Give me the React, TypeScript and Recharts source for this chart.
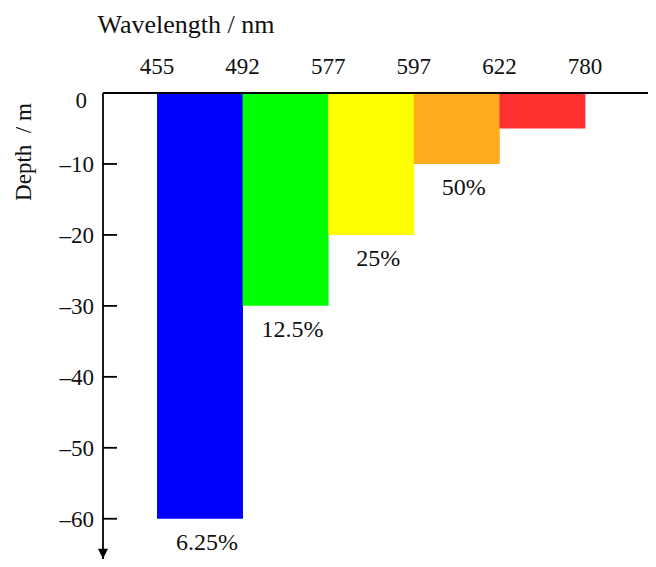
import React from 'react';
import { BarChart, Bar, XAxis, YAxis, Cell, LabelList } from 'recharts';

const wavelengthEdges = [455, 492, 577, 597, 622, 780];
const bandNames = ['Blue', 'Green', 'Yellow', 'Orange', 'Red'];
const depths = [-60, -30, -20, -10, -5];
const penetration = ['6.25%', '12.5%', '25%', '50%', ''];
const colors = ['#0000FF', '#00FF00', '#FFFF00', '#FFAD1F', '#FF3030'];
const depthTicks = [0, -10, -20, -30, -40, -50, -60];

const data = bandNames.map((name, i) => ({
  name,
  start: wavelengthEdges[i],
  end: wavelengthEdges[i + 1],
  depth: depths[i],
  pct: penetration[i],
}));

const W = 656;
const H = 567;
const TOP = 93;
const Y_AXIS_W = 103;
const PAD_L = 54;
const PAD_R = 71;
const BAND = (W - Y_AXIS_W - PAD_L - PAD_R) / data.length;
const FONT = '"Liberation Serif", "Times New Roman", serif';

const XTick = (props: any) => {
  const { x, y, index } = props;
  const isLast = index === data.length - 1;
  const ax = W - 2;
  return (
    <g>
      <text x={x - BAND / 2} y={y - 19} textAnchor="middle" fontFamily={FONT} fontSize={23} fill="#111">
        {wavelengthEdges[index]}
      </text>
      {isLast && (
        <text x={x + BAND / 2} y={y - 19} textAnchor="middle" fontFamily={FONT} fontSize={23} fill="#111">
          {wavelengthEdges[index + 1]}
        </text>
      )}
      {isLast && <path d={`M${ax},${y - 5} L${ax + 10},${y} L${ax},${y + 5} Z`} fill="#000" />}
    </g>
  );
};

const YTick = (props: any) => {
  const { x, y, payload } = props;
  const v = payload.value as number;
  const label = v === 0 ? '0' : '\u2013' + Math.abs(v);
  const isLast = v === depthTicks[depthTicks.length - 1];
  const ay = y + 30;
  return (
    <g>
      {v !== 0 && <line x1={x} x2={x + 14} y1={y} y2={y} stroke="#000" strokeWidth={1.8} />}
      <text
        x={v === 0 ? x - 16 : x - 9}
        y={v === 0 ? y + 15 : y + 8}
        textAnchor="end"
        fontFamily={FONT}
        fontSize={23}
        fill="#111"
      >
        {label}
      </text>
      {isLast && <path d={`M${x - 5},${ay} L${x},${ay + 10} L${x + 5},${ay} Z`} fill="#000" />}
    </g>
  );
};

const PctLabel = (props: any) => {
  const { x, y, width, height, value } = props;
  if (!value) return null;
  const bottom = Math.max(y, y + height);
  return (
    <text x={x + width / 2 + 7} y={bottom + 31} textAnchor="middle" fontFamily={FONT} fontSize={24} fill="#111">
      {value}
    </text>
  );
};

const XTitle = () => (
  <text x={186} y={33} textAnchor="middle" fontFamily={FONT} fontSize={26} fill="#111">
    Wavelength / nm
  </text>
);

const YTitle = () => (
  <text
    x={31}
    y={152}
    textAnchor="middle"
    transform="rotate(-90 31 152)"
    fontFamily={FONT}
    fontSize={23}
    fill="#111"
    style={{ whiteSpace: 'pre' }}
  >
    {'Depth  / m'}
  </text>
);

export default function App() {
  return (
    <div style={{ margin: -8, width: W, height: H, overflow: 'hidden', background: '#fff' }}>
      <BarChart
        width={W}
        height={H}
        data={data}
        margin={{ top: TOP - 30, right: 0, bottom: 0, left: 0 }}
        barCategoryGap={0}
        barGap={0}
      >
        <XAxis
          dataKey="name"
          orientation="top"
          height={30}
          padding={{ left: PAD_L, right: PAD_R }}
          tickLine={false}
          tickSize={0}
          tickMargin={0}
          axisLine={{ stroke: '#000', strokeWidth: 1.8 }}
          tick={<XTick />}
          interval={0}
          label={<XTitle />}
        />
        <YAxis
          type="number"
          domain={[-66.8, 0]}
          allowDataOverflow
          ticks={depthTicks}
          width={Y_AXIS_W}
          tickLine={false}
          tickSize={0}
          tickMargin={0}
          axisLine={{ stroke: '#000', strokeWidth: 1.8 }}
          tick={<YTick />}
          interval={0}
          label={<YTitle />}
        />
        <Bar dataKey="depth" isAnimationActive={false}>
          {data.map((d, i) => (
            <Cell key={d.name} fill={colors[i]} />
          ))}
          <LabelList dataKey="pct" content={<PctLabel />} />
        </Bar>
      </BarChart>
    </div>
  );
}
